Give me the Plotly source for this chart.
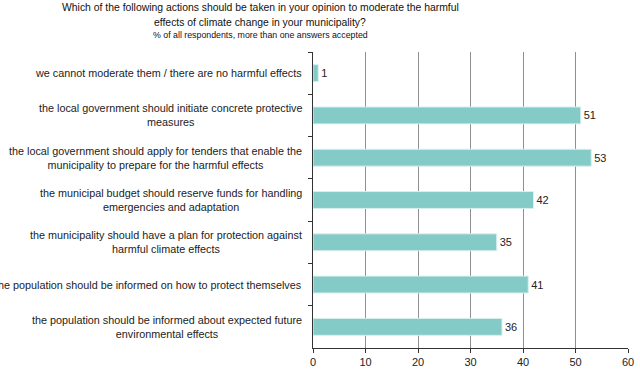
import plotly.graph_objects as go

categories = [
    "we cannot moderate them / there are no harmful effects",
    "the local government should initiate concrete protective<br>measures",
    "the local government should apply for tenders that enable the<br>municipality to prepare for the harmful effects",
    "the municipal budget should reserve funds for handling<br>emergencies and adaptation",
    "the municipality should have a plan for protection against<br>harmful climate effects",
    "the population should be informed on how to protect themselves",
    "the population should be informed about expected future<br>environmental effects",
]
values = [1, 51, 53, 42, 35, 41, 36]
x_ticks = [0, 10, 20, 30, 40, 50, 60]

title_lines = [
    "Which of the following actions should be taken in your opinion to moderate the harmful",
    "effects of climate change in your municipality?",
]
subtitle = "% of all respondents, more than one answers accepted"

FONT = "Liberation Sans, Arial, sans-serif"
BAR = "#84CBC7"
W, H = 640, 377
ML, MR, MT, MB = 313, 12, 52, 29

fig = go.Figure()
fig.add_trace(go.Bar(
    y=categories, x=values, orientation="h",
    marker=dict(color=BAR, line=dict(color="#d9efee", width=1)),
    text=[str(v) for v in values], textposition="outside",
    textfont=dict(family=FONT, size=11, color="#222"),
    cliponaxis=False, width=0.4, hoverinfo="none",
))

for c in categories:
    fig.add_annotation(
        xref="paper", yref="y", x=0, y=c, xanchor="right", yanchor="middle",
        xshift=-9, text=c, showarrow=False, align="center",
        font=dict(family=FONT, size=10.8, color="#222"),
    )

cx = (260 - ML) / (W - ML - MR)
for text, ypix, size in [(title_lines[0], 8, 10.4), (title_lines[1], 22, 10.4), (subtitle, 35, 8.8)]:
    fig.add_annotation(
        xref="paper", yref="paper", x=cx, y=1 + (MT - ypix) / (H - MT - MB),
        xanchor="center", yanchor="middle", showarrow=False, text=text,
        font=dict(family=FONT, size=size, color="#111"),
    )

fig.update_layout(
    width=W, height=H,
    margin=dict(l=ML, r=MR, t=MT, b=MB, autoexpand=False),
    plot_bgcolor="white", paper_bgcolor="white",
    showlegend=False,
)

fig.update_xaxes(
    range=[0, 60], tickvals=x_ticks, showgrid=True, gridcolor="#8f8f8f", gridwidth=1,
    showline=True, linecolor="#333", linewidth=1, ticks="outside", ticklen=4,
    tickcolor="#333", tickfont=dict(family=FONT, size=11, color="#222"),
    zeroline=False, fixedrange=True, automargin=False,
)
fig.update_yaxes(
    autorange="reversed", showticklabels=False, showline=True, linecolor="#333",
    linewidth=1, ticks="outside", ticklen=4, tickcolor="#333", tickson="boundaries",
    showgrid=False, fixedrange=True, automargin=False,
)

fig.write_html("out.html", config={"displayModeBar": False},
               post_script="document.body.style.margin='0';")
